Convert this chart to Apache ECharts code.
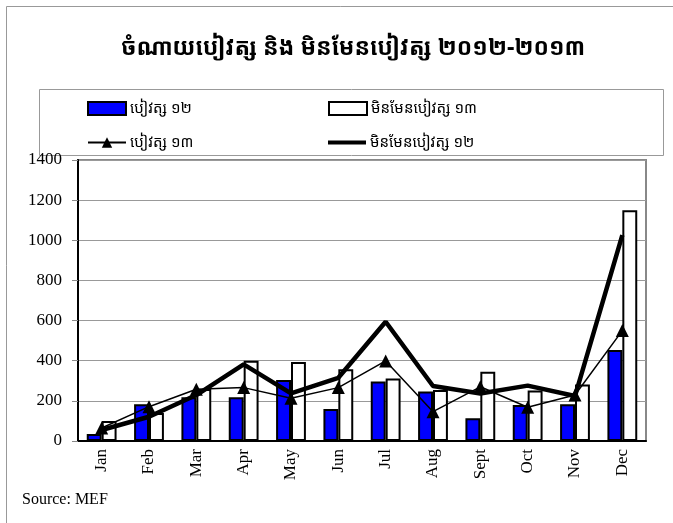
<!DOCTYPE html>
<html>
<head>
<meta charset="utf-8">
<script src="https://cdn.jsdelivr.net/npm/echarts@6/dist/echarts.min.js"></script>
<style>
	html, body { margin: 0; padding: 0; background: #fff; }
	#mychart { width: 673px; height: 523px; }
</style>
</head>
<body>
<div id="mychart"></div>
<script>
var months = ['Jan', 'Feb', 'Mar', 'Apr', 'May', 'Jun', 'Jul', 'Aug', 'Sept', 'Oct', 'Nov', 'Dec'];
// បៀវត្ស ១២ (blue bars)
var salary12 = [35, 183, 218, 218, 304, 159, 296, 246, 113, 179, 183, 453];
// មិនមែនបៀវត្ស ១៣ (white bars)
var nonSalary13 = [100, 140, 259, 400, 394, 357, 312, 254, 345, 251, 282, 1150];
// បៀវត្ស ១៣ (thin line, triangles)
var salary13 = [65, 171, 258, 266, 213, 266, 399, 146, 270, 168, 229, 550];
// មិនមែនបៀវត្ស ១២ (thick line)
var nonSalary12 = [55, 121, 229, 382, 237, 315, 594, 274, 237, 276, 224, 1026];

var khmer = '"Noto Sans Khmer", "Khmer OS", "Noto Sans", sans-serif';
var serif = '"Liberation Serif", "DejaVu Serif", serif';

var chart = {
	names : ['បៀវត្ស ១២', 'មិនមែនបៀវត្ស ១៣', 'បៀវត្ស ១៣', 'មិនមែនបៀវត្ស ១២'],

	legendAt : function legendAt(name, left, top, icon, h) {
		var item = { name : name };
		if (icon) item.icon = icon;
		return {
			data : [item],
			left : left,
			top : top,
			itemWidth : 38,
			itemHeight : h || 13,
			itemGap : 4,
			selectedMode : false,
			textStyle : { fontFamily : khmer, fontSize : 15, color : '#000', padding : [0, 0, 0, -1] }
		};
	},

	draw : function draw() {
		var option = {
			animation : false,
			title : {
				text : 'ចំណាយបៀវត្ស និង មិនមែនបៀវត្ស ២០១២-២០១៣',
				left : 116,
				top : 32,
				textStyle : { fontFamily : khmer, fontSize : 23, fontWeight : 'bold', color : '#000' }
			},
			legend : [
				this.legendAt(this.names[0], 82, 96, 'rect'),
				this.legendAt(this.names[1], 323, 96, 'rect'),
				this.legendAt(this.names[2], 82, 130),
				this.legendAt(this.names[3], 323, 130, 'rect', 4)
			],
			graphic : [
				{ type : 'rect', shape : { x : 6.5, y : 6.5, width : 700, height : 600 }, style : { fill : 'none', stroke : '#999', lineWidth : 1 }, z : -1 },
				{ type : 'rect', shape : { x : 39.5, y : 89.5, width : 624, height : 66 }, style : { fill : 'none', stroke : '#999', lineWidth : 1 }, z : -1 },
				{ type : 'text', left : 22, top : 492, style : { text : 'Source: MEF', fontFamily : serif, fontSize : 16, fill : '#000' } }
			],
			grid : {
				left : 78,
				right : 27,
				top : 160,
				bottom : 82,
				show : true,
				borderColor : '#888',
				borderWidth : 2
			},
			xAxis : {
				type : 'category',
				data : months,
				axisLine : { lineStyle : { color : '#000', width : 2 } },
				axisTick : { lineStyle : { color : '#888' }, length : 5 },
				axisLabel : { rotate : 90, fontFamily : serif, fontSize : 17, color : '#000', margin : 8 }
			},
			yAxis : {
				type : 'value',
				min : 0,
				max : 1400,
				interval : 200,
				axisLine : { show : true, lineStyle : { color : '#000', width : 2 } },
				axisTick : { show : true, length : 6, lineStyle : { color : '#888' } },
				splitLine : { lineStyle : { color : '#999', width : 1 } },
				axisLabel : {
					fontFamily : serif, fontSize : 17, color : '#000', margin : 16,
					formatter : function(v) { return String(v); }
				}
			},
			series : [
				{
					name : this.names[0],
					type : 'bar',
					data : salary12,
					barGap : '0%',
					barCategoryGap : '37%',
					itemStyle : { color : '#0000ff', borderColor : '#000', borderWidth : 2 }
				},
				{
					name : this.names[1],
					type : 'bar',
					data : nonSalary13,
					itemStyle : { color : '#fff', borderColor : '#000', borderWidth : 2 }
				},
				{
					name : this.names[2],
					type : 'line',
					data : salary13,
					symbol : 'triangle',
					symbolSize : 13,
					z : 4,
					itemStyle : { color : '#000' },
					lineStyle : { color : '#000', width : 1.5 }
				},
				{
					name : this.names[3],
					type : 'line',
					data : nonSalary12,
					symbol : 'none',
					z : 3,
					itemStyle : { color : '#000' },
					lineStyle : { color : '#000', width : 4.5 }
				}
			]
		};
		var myChart = echarts.init(document.getElementById('mychart'));
		myChart.setOption(option);
	}
};

chart.draw();
</script>
</body>
</html>
